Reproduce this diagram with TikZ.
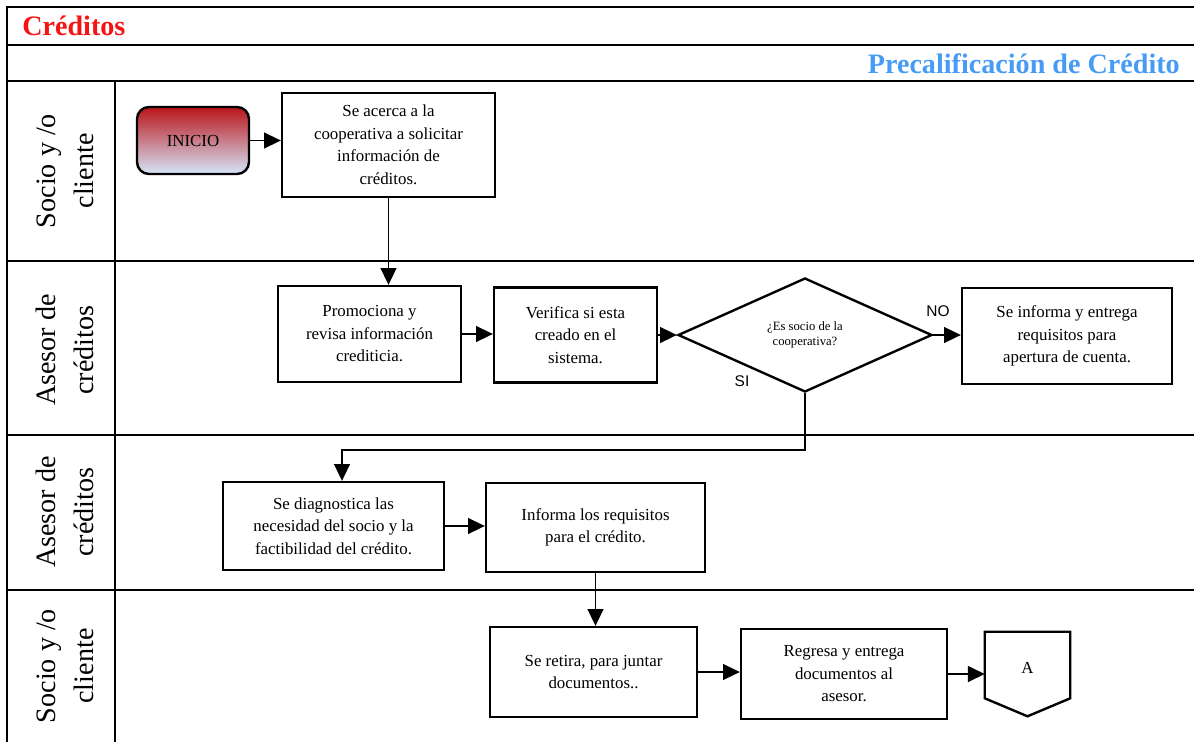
\documentclass[tikz,border=0pt]{standalone}
\usepackage{fontspec}
\setmainfont{Liberation Serif}
\newfontfamily\sanslbl{Liberation Sans}
\usetikzlibrary{arrows.meta,shapes.geometric}

\definecolor{rojotit}{RGB}{245,20,20}
\definecolor{azultit}{RGB}{70,155,245}
\definecolor{inicioRojo}{RGB}{185,20,25}
\definecolor{inicioAzul}{RGB}{192,214,244}
\definecolor{inicioClaro}{RGB}{214,230,250}

\tikzset{
  caja/.style 2 args={draw, line width=1.7pt, minimum width=#1*0.025cm,
    minimum height=#2*0.025cm, inner sep=0pt, align=center,
    font=\fontsize{12}{16}\selectfont},
  flecha/.style={line width=0.8pt, -{Triangle[length=0.42cm,width=0.4cm]}},
  carril/.style={rotate=90, align=center, font=\fontsize{20}{27}\selectfont},
  tabla/.style={line width=1.8pt},
  rotulo/.style={font=\sanslbl\fontsize{11}{13}\selectfont, inner sep=0pt}
}

\begin{document}
\begin{tikzpicture}[x=0.025cm, y=-0.025cm]
    \useasboundingbox (0,0) rectangle (1194,742);

    % tabla
    \draw[tabla] (1200,7) -- (7,7) -- (7,742);
    \draw[tabla] (7,45) -- (1200,45);
    \draw[tabla] (7,81) -- (1200,81);
    \draw[tabla] (7,261) -- (1200,261);
    \draw[tabla] (7,435) -- (1200,435);
    \draw[tabla] (7,590) -- (1200,590);
    \draw[tabla] (115,81) -- (115,742);

    \node[anchor=base west, inner sep=0pt, text=rojotit,
        font=\bfseries\fontsize{20}{24}\selectfont] (titulo) at (22,36) {Créditos};
    \node[anchor=base east, inner sep=0pt, text=azultit,
        font=\bfseries\fontsize{20}{24}\selectfont] (subtitulo) at (1180,73) {Precalificación de Crédito};

    % carriles
    \node[carril] (carril1) at (65,171) {Socio y /o\\cliente};
    \node[carril] (carril2) at (65,350) {Asesor de\\créditos};
    \node[carril] (carril3) at (65,512) {Asesor de\\créditos};
    \node[carril] (carril4) at (65,666) {Socio y /o\\cliente};

    % carril 1
    \node[caja={112}{67}, rounded corners=0.3cm, top color=inicioRojo,
        middle color=inicioAzul, bottom color=inicioClaro] (inicio) at (193,140.5) {INICIO};
    \node[caja={213}{104}] (acerca) at (388.5,145)
        {Se acerca a la\\cooperativa a solicitar\\información de\\créditos.};

    % carril 2
    \node[caja={183}{96}] (promo) at (369.5,334) {Promociona y\\revisa información\\crediticia.};
    \node[caja={163}{95}] (verif) at (575.5,335) {Verifica si esta\\creado en el\\sistema.};
    \node[shape=diamond, draw, line width=1.7pt, minimum width=254*0.025cm,
        minimum height=114*0.025cm, inner sep=0pt, align=center,
        font=\fontsize{9}{10.5}\selectfont] (socio) at (805,335) {¿Es socio de la\\cooperativa?};
    \node[caja={210}{96}] (infcta) at (1067,336)
        {Se informa y entrega\\requisitos para\\apertura de cuenta.};
    \node[rotulo] (no) at (938,311) {NO};
    \node[rotulo] (si) at (742,381) {SI};

    % carril 3
    \node[caja={221}{88}] (diag) at (333.5,526)
        {Se diagnostica las\\necesidad del socio y la\\factibilidad del crédito.};
    \node[caja={219}{89}] (req) at (595.5,527.5) {Informa los requisitos\\para el crédito.};

    % carril 4
    \node[caja={207}{90}] (retira) at (593.5,672) {Se retira, para juntar\\documentos..};
    \node[caja={206}{90}] (regresa) at (844,674) {Regresa y entrega\\documentos al\\asesor.};
    \node[minimum width=85*0.025cm, minimum height=84*0.025cm, inner sep=0pt,
        text depth=0.3cm, font=\fontsize{12}{14}\selectfont] (pagA) at (1027.5,674) {A};
    \draw[line width=1.7pt] (pagA.north west) -- (pagA.north east)
        -- ([yshift=0.45cm]pagA.south east) -- (pagA.south)
        -- ([yshift=0.45cm]pagA.south west) -- cycle;

    % flechas
    \draw[flecha] (inicio.east) -- (inicio.east -| acerca.west);
    \draw[flecha] (acerca.south) -- (acerca.south |- promo.north);
    \draw[flecha] (promo.east) -- (promo.east -| verif.west);
    \draw[flecha] (verif.east) -- (socio.west);
    \draw[flecha] (socio.east) -- (socio.east -| infcta.west);
    \coordinate (codoSI) at (342,450);
    \draw[flecha] (socio.south) |- (codoSI) -- (codoSI |- diag.north);
    \draw[flecha] (diag.east) -- (diag.east -| req.west);
    \draw[flecha] (req.south) -- (req.south |- retira.north);
    \draw[flecha] (retira.east) -- (retira.east -| regresa.west);
    \draw[flecha] (regresa.east) -- (regresa.east -| pagA.west);
\end{tikzpicture}
\end{document}
